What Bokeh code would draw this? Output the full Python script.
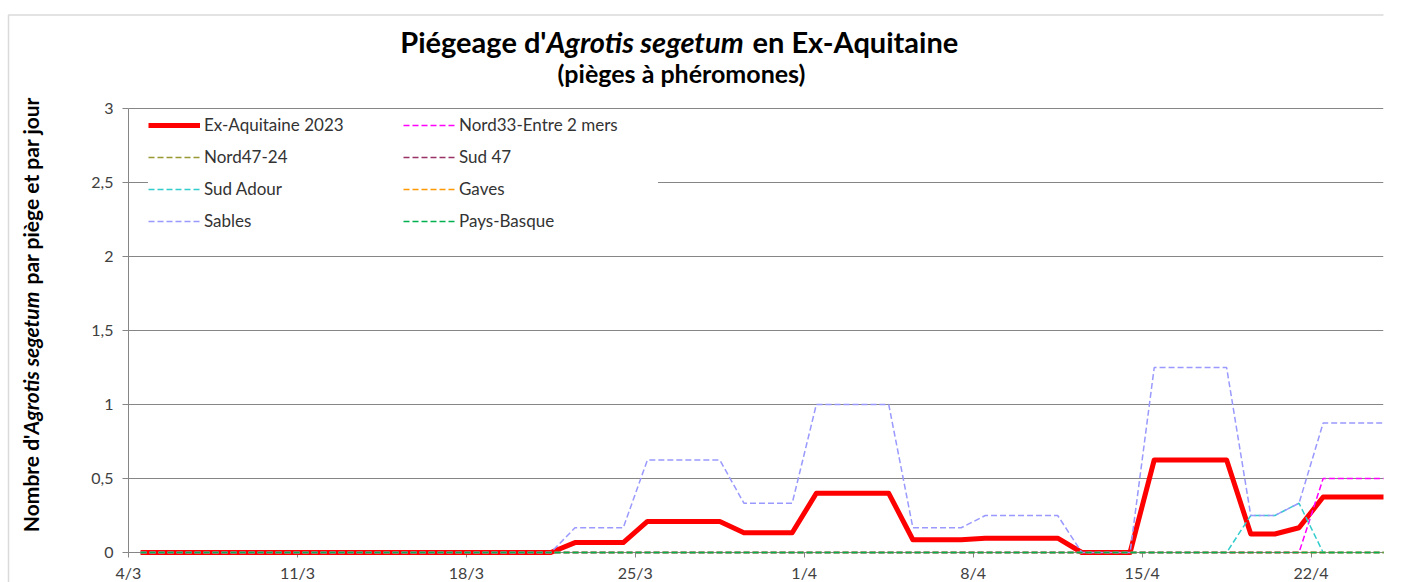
import math
from bokeh.plotting import figure
from bokeh.models import (Range1d, FixedTicker, Label, Legend, LegendItem,
                          BoxAnnotation)
from bokeh.embed import file_html
from bokeh.resources import INLINE

FONT = "Lato"

# ---------------- data ----------------
# one value per day, from 4/3 (index 0) to 25/4 (index 52)
ex_aquitaine = [0, 0, 0, 0, 0, 0, 0, 0, 0, 0,
                0, 0, 0, 0, 0, 0, 0, 0, 0.067, 0.067,
                0.067, 0.21, 0.21, 0.21, 0.21, 0.133, 0.133, 0.133, 0.40, 0.40,
                0.40, 0.40, 0.086, 0.086, 0.086, 0.097, 0.097, 0.097, 0.097, 0,
                0, 0, 0.625, 0.625, 0.625, 0.625, 0.125, 0.125, 0.167, 0.375,
                0.375, 0.375, 0.375]
nord33 = [0, 0, 0, 0, 0, 0, 0, 0, 0, 0,
          0, 0, 0, 0, 0, 0, 0, 0, 0, 0,
          0, 0, 0, 0, 0, 0, 0, 0, 0, 0,
          0, 0, 0, 0, 0, 0, 0, 0, 0, 0,
          0, 0, 0, 0, 0, 0, 0, 0, 0, 0.5,
          0.5, 0.5, 0.5]
nord47_24 = [0, 0, 0, 0, 0, 0, 0, 0, 0, 0,
             0, 0, 0, 0, 0, 0, 0, 0, 0, 0,
             0, 0, 0, 0, 0, 0, 0, 0, 0, 0,
             0, 0, 0, 0, 0, 0, 0, 0, 0, 0,
             0, 0, 0, 0, 0, 0, 0, 0, 0, 0,
             0, 0, 0]
sud47 = [0, 0, 0, 0, 0, 0, 0, 0, 0, 0,
         0, 0, 0, 0, 0, 0, 0, 0, 0, 0,
         0, 0, 0, 0, 0, 0, 0, 0, 0, 0,
         0, 0, 0, 0, 0, 0, 0, 0, 0, 0,
         0, 0, 0, 0, 0, 0, 0, 0, 0, 0,
         0, 0, 0]
sud_adour = [0, 0, 0, 0, 0, 0, 0, 0, 0, 0,
             0, 0, 0, 0, 0, 0, 0, 0, 0, 0,
             0, 0, 0, 0, 0, 0, 0, 0, 0, 0,
             0, 0, 0, 0, 0, 0, 0, 0, 0, 0,
             0, 0, 0, 0, 0, 0, 0.25, 0.25, 0.333, 0,
             0, 0, 0]
gaves = [0, 0, 0, 0, 0, 0, 0, 0, 0, 0,
         0, 0, 0, 0, 0, 0, 0, 0, 0, 0,
         0, 0, 0, 0, 0, 0, 0, 0, 0, 0,
         0, 0, 0, 0, 0, 0, 0, 0, 0, 0,
         0, 0, 0, 0, 0, 0, 0, 0, 0, 0,
         0, 0, 0]
sables = [0, 0, 0, 0, 0, 0, 0, 0, 0, 0,
          0, 0, 0, 0, 0, 0, 0, 0, 0.167, 0.167,
          0.167, 0.625, 0.625, 0.625, 0.625, 0.333, 0.333, 0.333, 1.0, 1.0,
          1.0, 1.0, 0.167, 0.167, 0.167, 0.25, 0.25, 0.25, 0.25, 0,
          0, 0, 1.25, 1.25, 1.25, 1.25, 0.25, 0.25, 0.333, 0.875,
          0.875, 0.875, 0.875]
pays_basque = [0, 0, 0, 0, 0, 0, 0, 0, 0, 0,
               0, 0, 0, 0, 0, 0, 0, 0, 0, 0,
               0, 0, 0, 0, 0, 0, 0, 0, 0, 0,
               0, 0, 0, 0, 0, 0, 0, 0, 0, 0,
               0, 0, 0, 0, 0, 0, 0, 0, 0, 0,
               0, 0, 0]

x_tick_labels = ["4/3", "11/3", "18/3", "25/3", "1/4", "8/4", "15/4", "22/4"]
y_tick_values = [0, 0.5, 1, 1.5, 2, 2.5, 3]
y_tick_labels = ["0", "0,5", "1", "1,5", "2", "2,5", "3"]

series_names = ["Ex-Aquitaine 2023", "Nord33-Entre 2 mers", "Nord47-24", "Sud 47",
                "Sud Adour", "Gaves", "Sables", "Pays-Basque"]
series_values = [ex_aquitaine, nord33, nord47_24, sud47, sud_adour, gaves, sables, pays_basque]
series_colors = ["#FF0000", "#FF00FF", "#999933", "#993366",
                 "#33CCCC", "#FF9900", "#9999FF", "#00B050"]

# ---------------- layout (pixels) ----------------
W, H = 1405, 582
PL, PR, PT, PB = 128, 1383, 108, 552      # plot area edges in page pixels
X_SPAN = 52                               # days shown on the axis
Y_MAX = 3
kx = (PR - PL) / X_SPAN
ky = (PB - PT) / Y_MAX

n_days = len(ex_aquitaine)
x = [d + 0.5 for d in range(n_days)]      # each day drawn in the middle of its slot
x_ticks = [7 * i for i in range(len(x_tick_labels))]

# the frame covers the whole canvas (except a thin right margin); axes are placed
# at fixed locations so that titles can live inside the frame
p = figure(width=W, height=H, output_backend="svg", toolbar_location=None,
           x_range=Range1d(-PL / kx, X_SPAN), y_range=Range1d(-(H - PB) / ky, PB / ky),
           min_border_left=0, min_border_right=W - PR,
           min_border_top=0, min_border_bottom=0)
p.outline_line_color = None
p.background_fill_color = "white"
p.border_fill_color = "white"

p.xaxis.fixed_location = 0
p.yaxis.fixed_location = 0
p.xaxis.bounds = (0, X_SPAN)
p.yaxis.bounds = (0, Y_MAX)

p.xgrid.visible = False
p.ygrid.grid_line_color = "#868686"
p.ygrid.grid_line_width = 1
p.ygrid.bounds = (0, Y_MAX)
p.ygrid.cross_bounds = (0, X_SPAN)

p.yaxis.ticker = FixedTicker(ticks=y_tick_values)
p.yaxis.major_label_overrides = {v: l for v, l in zip(y_tick_values, y_tick_labels)}
p.xaxis.ticker = FixedTicker(ticks=x_ticks)
p.xaxis.major_label_overrides = {v: l for v, l in zip(x_ticks, x_tick_labels)}

for ax in (p.xaxis[0], p.yaxis[0]):
    ax.level = "underlay"
    ax.axis_line_color = "#868686"
    ax.major_tick_line_color = "#868686"
    ax.minor_tick_line_color = None
    ax.major_tick_in = 0
    ax.major_label_text_font = FONT
    ax.major_label_text_font_size = "16px"
    ax.major_label_text_color = "#404040"
p.yaxis.major_tick_out = 6
p.yaxis.major_label_standoff = 9
p.xaxis.major_tick_out = 5
p.xaxis.major_label_standoff = 5

renderers = {}
for name, vals, col in zip(series_names, series_values, series_colors):
    if name == "Ex-Aquitaine 2023":
        r = p.line(x, vals, line_color=col, line_width=5, line_join="round")
    else:
        r = p.line(x, vals, line_color=col, line_width=1.5, line_dash="6 3")
    renderers[name] = r

ROW = 32
legend_order = ["Ex-Aquitaine 2023", "Nord47-24", "Sud Adour", "Sables",
                "Nord33-Entre 2 mers", "Sud 47", "Gaves", "Pays-Basque"]
legend = Legend(items=[LegendItem(label=n, renderers=[renderers[n]]) for n in legend_order],
                location=(148, H - 108.5 - 4 * ROW), orientation="vertical", ncols=2,
                glyph_width=52, glyph_height=ROW, label_height=ROW, label_width=199,
                label_standoff=4, spacing=0, padding=0, margin=0,
                label_text_font=FONT, label_text_font_size="17px",
                label_text_color="#333333",
                background_fill_color="white", background_fill_alpha=1.0,
                border_line_color=None)
p.add_layout(legend)


# ---------------- texts (screen units: from frame left / bottom) ----------------
def lab(text, X, Y, size, align="left", style="bold", angle=0.0, color="#000000"):
    p.add_layout(Label(x=X, y=H - Y, x_units="screen", y_units="screen",
                       text=text, text_font=FONT, text_font_size=size,
                       text_font_style=style, text_align=align,
                       text_baseline="middle", angle=angle, text_color=color))


lab("Piégeage d'", 546, 41, "29px", align="right")
lab("Agrotis segetum", 546, 41, "29px", style="bold italic")
lab("en Ex-Aquitaine", 752, 41, "29px")
lab("(pièges à phéromones)", 681, 72, "25px", align="center")

lab("Nombre d'", 30, 434, "21px", align="right", angle=math.pi / 2)
lab("Agrotis segetum", 30, 434, "21px", style="bold italic", angle=math.pi / 2)
lab("par piège et par jour", 30, 284, "21px", angle=math.pi / 2)

# outer chart border (left and top edges visible)
p.add_layout(BoxAnnotation(left=8, right=3000, top=H - 14.5, bottom=-3000,
                           left_units="screen", right_units="screen",
                           top_units="screen", bottom_units="screen",
                           fill_alpha=0, line_color="#868686", line_width=1.5))

open("out.html", "w").write(file_html(p, INLINE))
